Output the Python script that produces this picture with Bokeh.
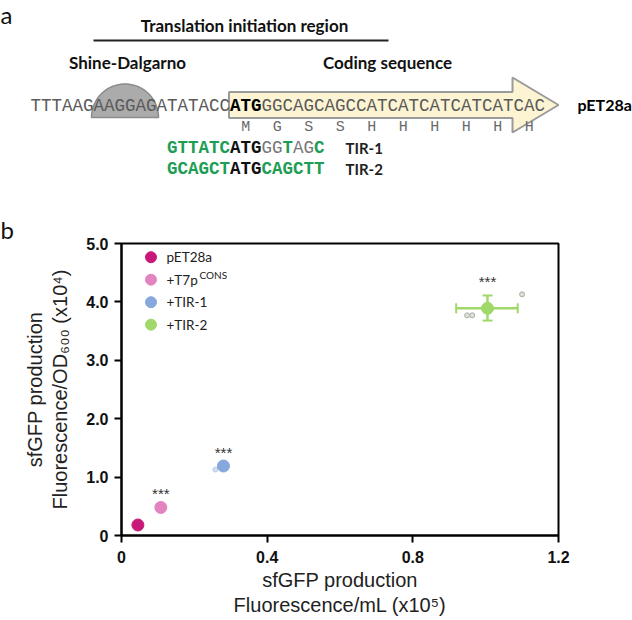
import math
from bokeh.plotting import figure
from bokeh.models import Range1d, FixedTicker, Whisker, TeeHead, ColumnDataSource
from bokeh.core.properties import value
from bokeh.embed import file_html
from bokeh.resources import INLINE

# ---------------- data: panel a (sequence diagram) ----------------
utr_seq = "TTTAAGAAGGAGATATACC"
start_codon = "ATG"
cds_seq = "GGCAGCAGCCATCATCATCATCATCAC"
amino_acids = ["M", "G", "S", "S", "H", "H", "H", "H", "H", "H"]
sd_site = "AAGGAG"
construct_name = "pET28a"
tir_names = ["TIR-1", "TIR-2"]
tir_parts = [
    [("GTTATC", "mut"), ("ATG", "start"), ("GG", "wt"), ("T", "mut"), ("AG", "wt"), ("C", "mut")],
    [("GCAGCT", "mut"), ("ATG", "start"), ("CAGCTT", "mut")],
]
header_title = "Translation initiation region"
sd_title = "Shine-Dalgarno"
cds_title = "Coding sequence"

# ---------------- data: panel b (scatter) ----------------
groups = ["pET28a", "+T7p", "+TIR-1", "+TIR-2"]
group_sup = ["", "CONS", "", ""]
group_colors = ["#C8197B", "#E383BF", "#87A8DC", "#A0D86A"]
fluor_per_ml = [0.045, 0.108, 0.280, 1.005]     # x10^5
fluor_per_od = [0.18, 0.48, 1.19, 3.89]         # x10^4
x_err_low = [0.0, 0.0, 0.0, 0.086]
x_err_high = [0.0, 0.0, 0.0, 0.083]
y_err_low = [0.0, 0.0, 0.0, 0.21]
y_err_high = [0.0, 0.0, 0.0, 0.22]
significance = ["", "***", "***", "***"]
rep_group = [2, 3, 3, 3]
rep_x = [0.258, 0.949, 0.963, 1.100]
rep_y = [1.13, 3.77, 3.77, 4.13]
x_ticks = [0, 0.4, 0.8, 1.2]
x_tick_labels = ["0", "0.4", "0.8", "1.2"]
y_ticks = [0, 1, 2, 3, 4, 5]
y_tick_labels = ["0", "1.0", "2.0", "3.0", "4.0", "5.0"]
x_title = "sfGFP production\nFluorescence/mL (x10\u2075)"
y_title = "sfGFP production\nFluorescence/OD\u2086\u2080\u2080 (x10\u2074)"

# ---------------- layout constants (page px) ----------------
PAGE_W = 632
SPLIT = 205          # bottom of panel a / top of panel b canvas
B_BOTTOM = 620
SEQ_X0, CHAR_W, SEQ_Y = 30.0, 10.5, 105
AA_Y = 127
TIR_Y = [147, 168]
GREEN = "#1E9E55"
SEQ_GREY = "#5a5a5a"

# ================= panel a =================
fa = figure(width=PAGE_W, height=SPLIT,
            x_range=Range1d(0, PAGE_W), y_range=Range1d(SPLIT, 0),
            min_border=0, x_axis_location=None, y_axis_location=None,
            toolbar_location=None, output_backend="svg", outline_line_color=None)
fa.grid.visible = False

def cx(i):
    return SEQ_X0 + i * CHAR_W

fa.text(x=[0], y=[14], text=["a"], text_font=value("Lato"), text_font_size="24px",
        text_align="left", text_baseline="alphabetic", text_color="#111")

fa.line(x=[93, 388], y=[40, 40], line_width=2, line_color="#222")
fa.text(x=[244], y=[25], text=[header_title], text_font=value("Lato"), text_font_size="17px",
        text_font_style="bold", text_align="center", text_baseline="middle", text_color="#111")
fa.text(x=[127, 387], y=[62, 62], text=[sd_title, cds_title], text_font=value("Lato"),
        text_font_size="17px", text_font_style="bold", text_align="center",
        text_baseline="middle", text_color="#111")

# Shine-Dalgarno half disc
sd_i = utr_seq.find(sd_site)
sd_c = cx(sd_i + len(sd_site) / 2)
sd_r = len(sd_site) / 2 * CHAR_W + 2
base_y = 117
ts = [math.pi * k / 40 for k in range(41)]
fa.patch(x=[sd_c + sd_r * math.cos(t) for t in ts], y=[base_y - sd_r * math.sin(t) for t in ts],
         fill_color="#ABABAB", line_color="#8C8C8C", line_width=1.5)

# coding-sequence arrow
a0 = cx(len(utr_seq)) - 1
head0, tip = 512, 558
bh, hh, ay = 13, 27.5, 104.5
fa.patch(x=[a0, head0, head0, tip, head0, head0, a0],
         y=[ay - bh, ay - bh, ay - hh, ay, ay + hh, ay + bh, ay + bh],
         fill_color="#FCF4D2", line_color="#9A9A9A", line_width=2)

mono = value("Liberation Mono")
fa.text(x=[cx(0)], y=[SEQ_Y], text=[utr_seq], text_font=mono, text_font_size="17.5px",
        text_align="left", text_baseline="middle", text_color=SEQ_GREY)
fa.text(x=[cx(len(utr_seq))], y=[SEQ_Y], text=[start_codon], text_font=mono,
        text_font_size="17.5px", text_font_style="bold", text_align="left",
        text_baseline="middle", text_color="#000")
fa.text(x=[cx(len(utr_seq) + 3)], y=[SEQ_Y], text=[cds_seq], text_font=mono,
        text_font_size="17.5px", text_align="left", text_baseline="middle", text_color=SEQ_GREY)
fa.text(x=[577], y=[SEQ_Y - 1], text=[construct_name], text_font=value("Lato"),
        text_font_size="16px", text_font_style="bold", text_align="left",
        text_baseline="middle", text_color="#000")

aa_x = [cx(len(utr_seq) + 3 * k + 1.5) for k in range(len(amino_acids))]
fa.text(x=aa_x, y=[AA_Y] * len(amino_acids), text=amino_acids, text_font=mono,
        text_font_size="15px", text_align="center", text_baseline="middle", text_color="#6a6a6a")

style = {"mut": (GREEN, "bold"), "start": ("#111", "bold"), "wt": ("#777", "normal")}
tir_start = len(utr_seq) - 6
for row, parts in enumerate(tir_parts):
    pos = tir_start
    for seg, kind in parts:
        col, fs = style[kind]
        fa.text(x=[cx(pos)], y=[TIR_Y[row]], text=[seg], text_font=mono, text_font_size="17.5px",
                text_font_style=fs, text_align="left", text_baseline="middle", text_color=col)
        pos += len(seg)
    fa.text(x=[345], y=[TIR_Y[row]], text=[tir_names[row]], text_font=value("Lato"),
            text_font_size="15px", text_font_style="bold", text_align="left",
            text_baseline="middle", text_color="#222")

# ================= panel b =================
XMIN, XMAX, YMIN, YMAX = 0, 1.2, 0, 5
FL, FR, FT, FB = 121, 558, 243, 535   # frame edges, page px

def px2x(px):
    return XMIN + (px - FL) / (FR - FL) * (XMAX - XMIN)

def px2y(py):
    return YMIN + (FB - py) / (FB - FT) * (YMAX - YMIN)

fb = figure(width=PAGE_W, height=B_BOTTOM - SPLIT,
            x_range=Range1d(XMIN, XMAX), y_range=Range1d(YMIN, YMAX),
            min_border_left=FL, min_border_right=PAGE_W - FR,
            min_border_top=FT - SPLIT, min_border_bottom=B_BOTTOM - FB,
            toolbar_location=None, output_backend="svg", title="b")
fb.title.align = "left"
fb.title.offset = -FL
fb.title.standoff = 0
fb.title.text_font = "Lato"
fb.title.text_font_size = "24px"
fb.title.text_font_style = "normal"
fb.title.text_color = "#111"
fb.grid.visible = False
fb.outline_line_color = "black"
fb.outline_line_width = 2
for ax in (fb.xaxis[0], fb.yaxis[0]):
    ax.axis_line_width = 2
    ax.major_tick_line_width = 2
    ax.major_tick_out = 7
    ax.major_tick_in = 0
    ax.minor_tick_line_color = None
    ax.major_label_text_font = "Liberation Sans"
    ax.major_label_text_font_size = "16px"
    ax.major_label_text_font_style = "bold"
    ax.major_label_text_color = "#111"
    ax.axis_label_text_font = "Liberation Sans"
    ax.axis_label_text_font_size = "20px"
    ax.axis_label_text_font_style = "normal"
    ax.axis_label_text_color = "#222"
    ax.axis_label_text_line_height = 1.15
fb.xaxis[0].major_label_standoff = 8
fb.yaxis[0].major_label_standoff = 6
fb.xaxis[0].axis_label = x_title
fb.xaxis[0].axis_label_standoff = 3
fb.yaxis[0].axis_label = y_title
fb.yaxis[0].axis_label_standoff = 12
fb.xaxis[0].ticker = FixedTicker(ticks=x_ticks)
fb.xaxis[0].major_label_overrides = {t: l for t, l in zip(x_ticks, x_tick_labels)}
fb.yaxis[0].ticker = FixedTicker(ticks=y_ticks)
fb.yaxis[0].major_label_overrides = {t: l for t, l in zip(y_ticks, y_tick_labels)}

for i in range(len(groups)):
    c = group_colors[i]
    if x_err_low[i] > 0 or x_err_high[i] > 0:
        s = ColumnDataSource(dict(b=[fluor_per_od[i]], lo=[fluor_per_ml[i] - x_err_low[i]],
                                  hi=[fluor_per_ml[i] + x_err_high[i]]))
        fb.add_layout(Whisker(source=s, base="b", lower="lo", upper="hi", dimension="width",
                              line_color=c, line_width=2.5,
                              upper_head=TeeHead(size=10, line_color=c, line_width=2),
                              lower_head=TeeHead(size=10, line_color=c, line_width=2)))
    if y_err_low[i] > 0 or y_err_high[i] > 0:
        s = ColumnDataSource(dict(b=[fluor_per_ml[i]], lo=[fluor_per_od[i] - y_err_low[i]],
                                  hi=[fluor_per_od[i] + y_err_high[i]]))
        fb.add_layout(Whisker(source=s, base="b", lower="lo", upper="hi", dimension="height",
                              line_color=c, line_width=2.5,
                              upper_head=TeeHead(size=10, line_color=c, line_width=2),
                              lower_head=TeeHead(size=10, line_color=c, line_width=2)))

rep_fill = ["#D2DEF2" if g == 2 else "#DDE0D8" for g in rep_group]
rep_line = ["#B9CBEA" if g == 2 else "#A8AFA2" for g in rep_group]
fb.scatter(x=rep_x, y=rep_y, size=5, fill_color=rep_fill, line_color=rep_line, line_width=1)

fb.scatter(x=fluor_per_ml, y=fluor_per_od, size=12, fill_color=group_colors, line_color=group_colors)

star_y = [fluor_per_od[i] + y_err_high[i] for i in range(len(groups))]
fb.text(x=fluor_per_ml, y=star_y, text=significance, y_offset=-14,
        text_font=value("Liberation Sans"), text_font_size="15px", text_align="center",
        text_baseline="middle", text_color="#333")

leg_rows = [256.7 + 22.5 * k for k in range(len(groups))]
leg_y = [px2y(r) for r in leg_rows]
fb.scatter(x=[px2x(150.5)] * len(groups), y=leg_y, size=11, fill_color=group_colors,
           line_color=group_colors)
fb.text(x=[px2x(166)] * len(groups), y=leg_y, text=groups, text_font=value("Lato"),
        text_font_size="13.5px", text_align="left", text_baseline="middle", text_color="#222")
fb.text(x=[px2x(166)] * len(groups), y=leg_y, text=group_sup, x_offset=33, y_offset=-5,
        text_font=value("Lato"), text_font_size="10px", text_align="left",
        text_baseline="middle", text_color="#222")

open("out.html", "w").write(file_html([fa, fb], INLINE))
